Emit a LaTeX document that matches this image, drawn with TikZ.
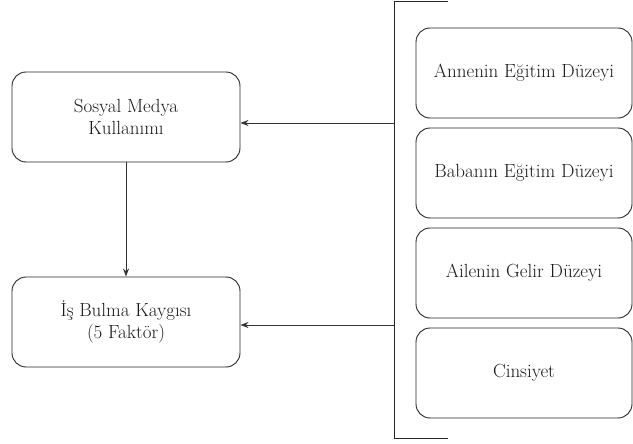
\documentclass[tikz,border=0pt]{standalone}
\usepackage{fontspec}
\usetikzlibrary{arrows.meta}
\begin{document}
\begin{tikzpicture}[x=1pt,y=-1pt,
  box/.style={draw=black!85,line width=0.9pt,rounded corners=14pt,align=center,
    font=\fontsize{19}{22}\selectfont,text=black!90,inner sep=0pt},
  conn/.style={draw=black!80,line width=0.8pt,-{Stealth[length=8pt,width=6pt]}}]
\useasboundingbox (0,0) rectangle (633,444);
% left boxes
\node[box,minimum width=228pt,minimum height=90pt] (smk) at (126,117) {Sosyal Medya\\Kullanımı};
\node[box,minimum width=228pt,minimum height=90pt] (ibk) at (126,322) {İş Bulma Kaygısı\\(5 Faktör)};
% right boxes
\node[box,minimum width=216pt,minimum height=90pt] (anne) at (524,73) {Annenin Eğitim Düzeyi};
\node[box,minimum width=216pt,minimum height=90pt] (baba) at (524,173) {Babanın Eğitim Düzeyi};
\node[box,minimum width=216pt,minimum height=90pt] (gelir) at (524,273) {Ailenin Gelir Düzeyi};
\node[box,minimum width=216pt,minimum height=90pt] (cins) at (524,373) {Cinsiyet};
% bracket
\coordinate (bt) at (448,1);
\coordinate (bb) at (448,438);
\draw[black!85,line width=0.9pt] (bt) -- (394,1) -- (394,438) -- (bb);
\coordinate (a1) at (394,123);
\coordinate (a2) at (394,325);
% connectors
\draw[conn] (a1) -- (smk.east |- a1);
\draw[conn] (a2) -- (ibk.east |- a2);
\draw[conn] (smk.south) -- (ibk.north);
\end{tikzpicture}
\end{document}
